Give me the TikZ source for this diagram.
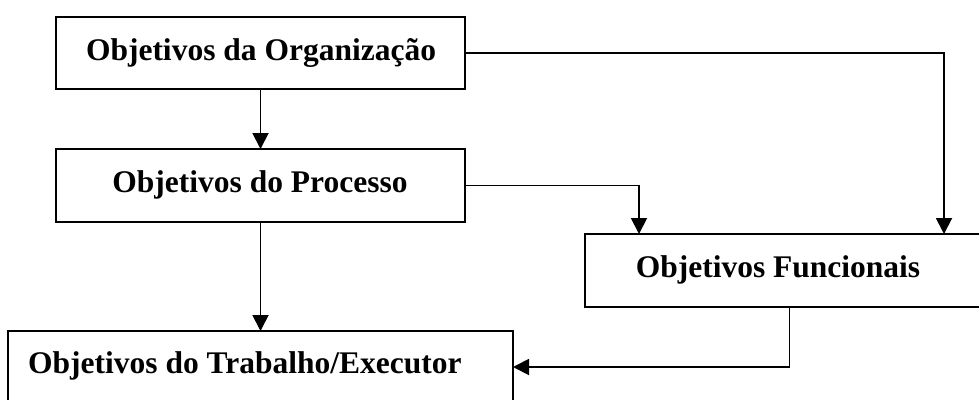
\documentclass[tikz,border=0pt]{standalone}
\usepackage{fontspec}
\setmainfont{Liberation Serif}
\usetikzlibrary{arrows.meta}
\begin{document}
\begin{tikzpicture}[x=1pt,y=-1pt,
  box/.style={draw=black,line width=1.9pt,minimum width=409pt,minimum height=72pt,inner sep=0pt,outer sep=0pt},
  lbl/.style={font=\fontsize{31.5}{31.5}\selectfont\bfseries,inner sep=0pt,anchor=base},
  arr/.style={line width=1.9pt,-{Triangle[length=16pt,width=16pt]}}]
  \useasboundingbox (0,0) rectangle (979,399);
  \clip (0,0) rectangle (979,399);
  \fill[white] (0,0) rectangle (979,399);

  % boxes
  \node[box] (org)  at (260.5,53)    {};
  \node[box,minimum height=73pt] (proc) at (260.5,185.5) {};
  \node[box,minimum height=73pt] (func) at (789.5,270.5) {};
  \node[box,minimum width=505pt] (trab) at (260.5,367)   {};

  % labels
  \node[lbl] (torg)  at (261,60)  {Objetivos da Organização};
  \node[lbl] (tproc) at (260,192) {Objetivos do Processo};
  \node[lbl] (tfunc) at (778,277) {Objetivos Funcionais};
  \node[lbl,anchor=base west] (ttrab) at (28,373) {Objetivos do Trabalho/Executor};

  % bend points of the connectors
  \coordinate (korg)  at (944,0);
  \coordinate (kproc) at (639,0);

  % connectors
  \draw[arr] (org) -- (proc);
  \draw[arr] (proc) -- (trab);
  \draw[arr] (org.east) -| (korg |- func.north);
  \draw[arr] (proc.east) -| (kproc |- func.north);
  \draw[arr] (func.south) |- (trab.east);
\end{tikzpicture}
\end{document}
